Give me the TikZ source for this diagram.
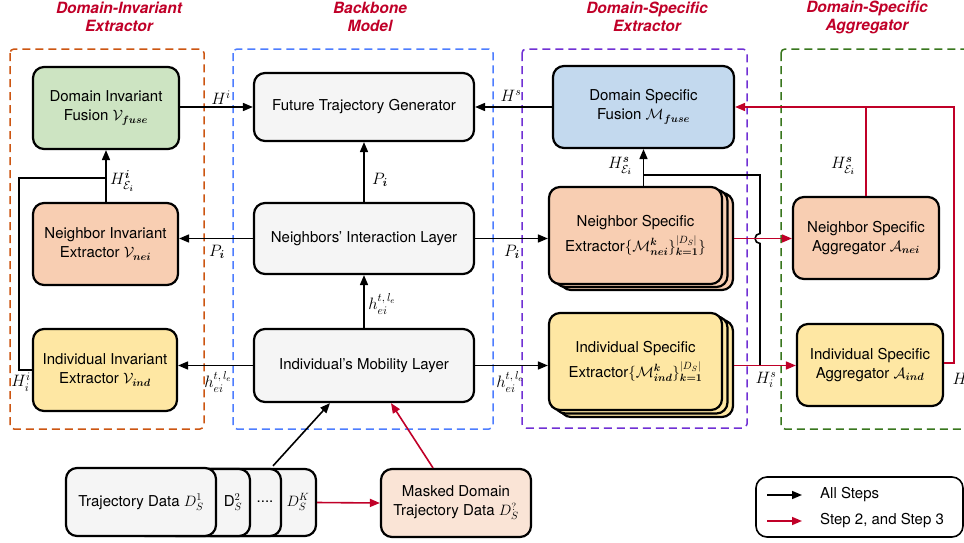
\RequirePackage{fix-cm}
\documentclass[tikz,border=0pt]{standalone}
\usepackage{amsmath,bm}
\usepackage{fontspec}
\setmainfont{TeX Gyre Heros}
\usetikzlibrary{arrows.meta,calc}
\definecolor{cOrange}{RGB}{204,85,17}
\definecolor{cBlue}{RGB}{77,125,255}
\definecolor{cPurple}{RGB}{112,48,212}
\definecolor{cGreen}{RGB}{56,118,29}
\definecolor{myred}{RGB}{192,0,40}
\definecolor{fGreen}{RGB}{205,228,194}
\definecolor{fGray}{RGB}{245,245,245}
\definecolor{fBlue}{RGB}{195,217,238}
\definecolor{fPeach}{RGB}{248,206,178}
\definecolor{fYellow}{RGB}{254,231,163}
\definecolor{fMask}{RGB}{250,228,214}
\newcommand\boxfont{\fontsize{15}{19}\selectfont}
\newcommand\labfont{\fontsize{16.5}{19}\selectfont}
\newcommand\titlefont{\fontsize{15.5}{18}\selectfont\bfseries\itshape}
\begin{document}
\begin{tikzpicture}[x=1pt,y=-1pt,font=\boxfont,
  region/.style={line width=1.5pt,dash pattern=on 8pt off 5pt,rounded corners=4pt},
  ttl/.style={text=myred,font=\titlefont,align=center,inner sep=0pt},
  blk/.style={draw=black,line width=2.2pt,rounded corners=11pt,align=center,inner sep=0pt},
  conn/.style={line width=1.6pt,-{Triangle[length=10pt,width=8pt]}},
  plain/.style={line width=1.6pt},
  redc/.style={line width=1.6pt,draw=myred,-{Triangle[length=10pt,width=8pt]}},
  redl/.style={line width=1.6pt,draw=myred},
  lab/.style={inner sep=0pt,font=\labfont}]
\useasboundingbox (0,0) rectangle (964,542);
% regions
\draw[region,draw=cOrange] (10,49) rectangle (204,429);
\draw[region,draw=cBlue] (233,49) rectangle (493,429);
\draw[region,draw=cPurple] (522,49) rectangle (747,428);
\draw[region,draw=cGreen] (781,49) rectangle (1000,429);
% titles
\node[ttl] (t1) at (119,17) {Domain-Invariant\\Extractor};
\node[ttl] (t2) at (370,17) {Backbone\\Model};
\node[ttl] (t3) at (647,17) {Domain-Specific\\Extractor};
\node[ttl] (t4) at (867,17) {Domain-Specific\\Aggregator};
% invariant column
\node[blk,fill=fGreen,minimum width=146pt,minimum height=82pt] (fusI) at (106,108) {Domain Invariant\\Fusion $\mathcal{V}_{\bm{fuse}}$};
\node[blk,fill=fPeach,minimum width=145pt,minimum height=82pt] (neiI) at (105.5,244) {Neighbor Invariant\\Extractor $\mathcal{V}_{\bm{nei}}$};
\node[blk,fill=fYellow,minimum width=144pt,minimum height=82pt] (indI) at (105,370) {Individual Invariant\\Extractor $\mathcal{V}_{\bm{ind}}$};
% backbone
\node[blk,fill=fGray,minimum width=220pt,minimum height=68pt] (ftg) at (364,107) {Future Trajectory Generator};
\node[blk,fill=fGray,minimum width=220pt,minimum height=71pt] (nil) at (364,238.5) {Neighbors' Interaction Layer};
\node[blk,fill=fGray,minimum width=220pt,minimum height=73pt] (iml) at (364,365.5) {Individual's Mobility Layer};
% specific extractor
\node[blk,fill=fBlue,minimum width=181pt,minimum height=82pt] (fusS) at (643.5,107) {Domain Specific\\Fusion $\mathcal{M}_{\bm{fuse}}$};
\node[blk,fill=fPeach,minimum width=173pt,minimum height=97pt] (neiS3) at (646.5,241.5) {};
\node[blk,fill=fPeach,minimum width=173pt,minimum height=97pt] (neiS2) at (641,238.5) {};
\node[blk,fill=fPeach,minimum width=173pt,minimum height=97pt] (neiS) at (635.5,235.5) {Neighbor Specific\\[6pt]Extractor$\{\mathcal{M}^{\bm{k}}_{\bm{nei}}\}^{|D_S|}_{\bm{k=1}}\}$};
\node[blk,fill=fYellow,minimum width=173pt,minimum height=97pt] (indS3) at (646.5,368.5) {};
\node[blk,fill=fYellow,minimum width=173pt,minimum height=97pt] (indS2) at (641,365) {};
\node[blk,fill=fYellow,minimum width=173pt,minimum height=97pt] (indS) at (635.5,361.5) {Individual Specific\\[6pt]Extractor$\{\mathcal{M}^{\bm{k}}_{\bm{ind}}\}^{|D_S|}_{\bm{k=1}}$};
% aggregators
\node[blk,fill=fPeach,minimum width=146pt,minimum height=82pt] (neiA) at (866,238) {Neighbor Specific\\Aggregator $\mathcal{A}_{\bm{nei}}$};
\node[blk,fill=fYellow,minimum width=146pt,minimum height=82pt] (indA) at (870,365) {Individual Specific\\Aggregator $\mathcal{A}_{\bm{ind}}$};
% data
\node[blk,fill=fGray,minimum width=116pt,minimum height=67pt] (trajK) at (258,502.5) {};
\node[blk,fill=fGray,minimum width=116pt,minimum height=67pt] (trajD) at (223,502.5) {};
\node[blk,fill=fGray,minimum width=116pt,minimum height=67pt] (traj2) at (192,502.5) {};
\node[blk,fill=fGray,minimum width=150pt,minimum height=68pt] (traj) at (141,502) {Trajectory Data $D_S^1$};
\node[inner sep=0pt] (l2) at (233,502) {$\mathrm{D}_S^2$};
\node[inner sep=0pt] (lD) at (265,502) {....};
\node[inner sep=0pt] (lK) at (298,502) {$D_S^K$};
\node[blk,fill=fMask,minimum width=150pt,minimum height=68pt] (mask) at (456,503) {Masked Domain\\Trajectory Data $D_S^?$};
% legend
\node[draw=black,line width=1.6pt,rounded corners=11pt,minimum width=207pt,minimum height=60pt,inner sep=0pt] (leg) at (859.5,507) {};
\coordinate (la1) at (767,495); \coordinate (lb1) at (802,495);
\coordinate (la2) at (767,521); \coordinate (lb2) at (802,521);
\draw[conn] (la1) -- (lb1);
\draw[redc] (la2) -- (lb2);
\node[inner sep=0pt,anchor=west] (lt1) at (820,495) {All Steps};
\node[inner sep=0pt,anchor=west] (lt2) at (820,521) {Step 2, and Step 3};
% connectors backbone
\draw[conn] (fusI.east |- ftg.west) -- (ftg.west);
\draw[conn] (fusS.west) -- (fusS.west -| ftg.east);
\draw[conn] (nil.north) -- (ftg.south);
\draw[conn] (iml.north) -- (nil.south);
\draw[conn] (nil.west) -- (nil.west -| neiI.east);
\draw[conn] (iml.west) -- (iml.west -| indI.east);
\draw[conn] (nil.east) -- (nil.east -| neiS.west);
\draw[conn] (iml.east) -- (iml.east -| indS.west);
% invariant internal
\coordinate (yl) at (0,178);
\draw[conn] (fusI.south |- neiI.north) -- (fusI.south);
\draw[plain] (indI.west) -- ++(-13,0) |- (fusI.south |- yl);
% specific internal
\coordinate (jx) at (760,365.5);
\coordinate (jt) at (760,175);
\draw[conn] (fusS.south |- neiS.north) -- (fusS.south);
\draw[plain] (jx) -- ($(jx |- nil.east)+(0,5)$) arc[start angle=90,end angle=270,radius=5] -- (jt) -- (jt -| fusS.south);
\draw[redc] (neiS3.east |- nil.east) -- (neiA.west |- nil.east);
\draw[redc] (indS3.east |- iml.east) -- (indA.west |- iml.east);
% aggregator outputs
\coordinate (jr) at (954,0);
\draw[redl] (neiA.north) -- (neiA.north |- fusS.east);
\draw[redc] (indA.east |- 0,363) -- (jr |- 0,363) -- (jr |- fusS.east) -- (fusS.east);
% data inputs
\draw[conn] ($(traj.north)+(132,-1)$) -- ($(iml.south)+(-34,0)$);
\draw[redc] ($(mask.north)+(-23,0)$) -- ($(iml.south)+(27,0)$);
\draw[redc] (trajK.east) -- (mask.west);
% labels
\node[lab] (hI) at (221,98) {$H^{i}$};
\node[lab] (hS) at (511,96) {$H^{s}$};
\node[lab] (p1) at (380,180) {$P_{\bm{i}}$};
\node[lab] (e1) at (382,304) {$h_{ei}^{t,\,l_e}$};
\node[lab] (p2) at (217,252) {$P_{\bm{i}}$};
\node[lab] (e2) at (218,382) {$h_{ei}^{t,\,l_e}$};
\node[lab] (p3) at (512,252) {$P_{\bm{i}}$};
\node[lab] (e3) at (510,382) {$h_{ei}^{t,\,l_e}$};
\node[lab] (hEi) at (122,181) {$H^{\bm{i}}_{\mathcal{E}_{\bm{i}}}$};
\node[lab] (hii) at (21,382) {$H_i^{i}$};
\node[lab] (hEs1) at (620,166) {$H^{\bm{s}}_{\mathcal{E}_{\bm{i}}}$};
\node[lab] (hEs2) at (843,166) {$H^{\bm{s}}_{\mathcal{E}_{\bm{i}}}$};
\node[lab] (his) at (766,380) {$H_i^{s}$};
\node[lab] (hir) at (963,381) {$H_i^{s}$};
\end{tikzpicture}
\end{document}
